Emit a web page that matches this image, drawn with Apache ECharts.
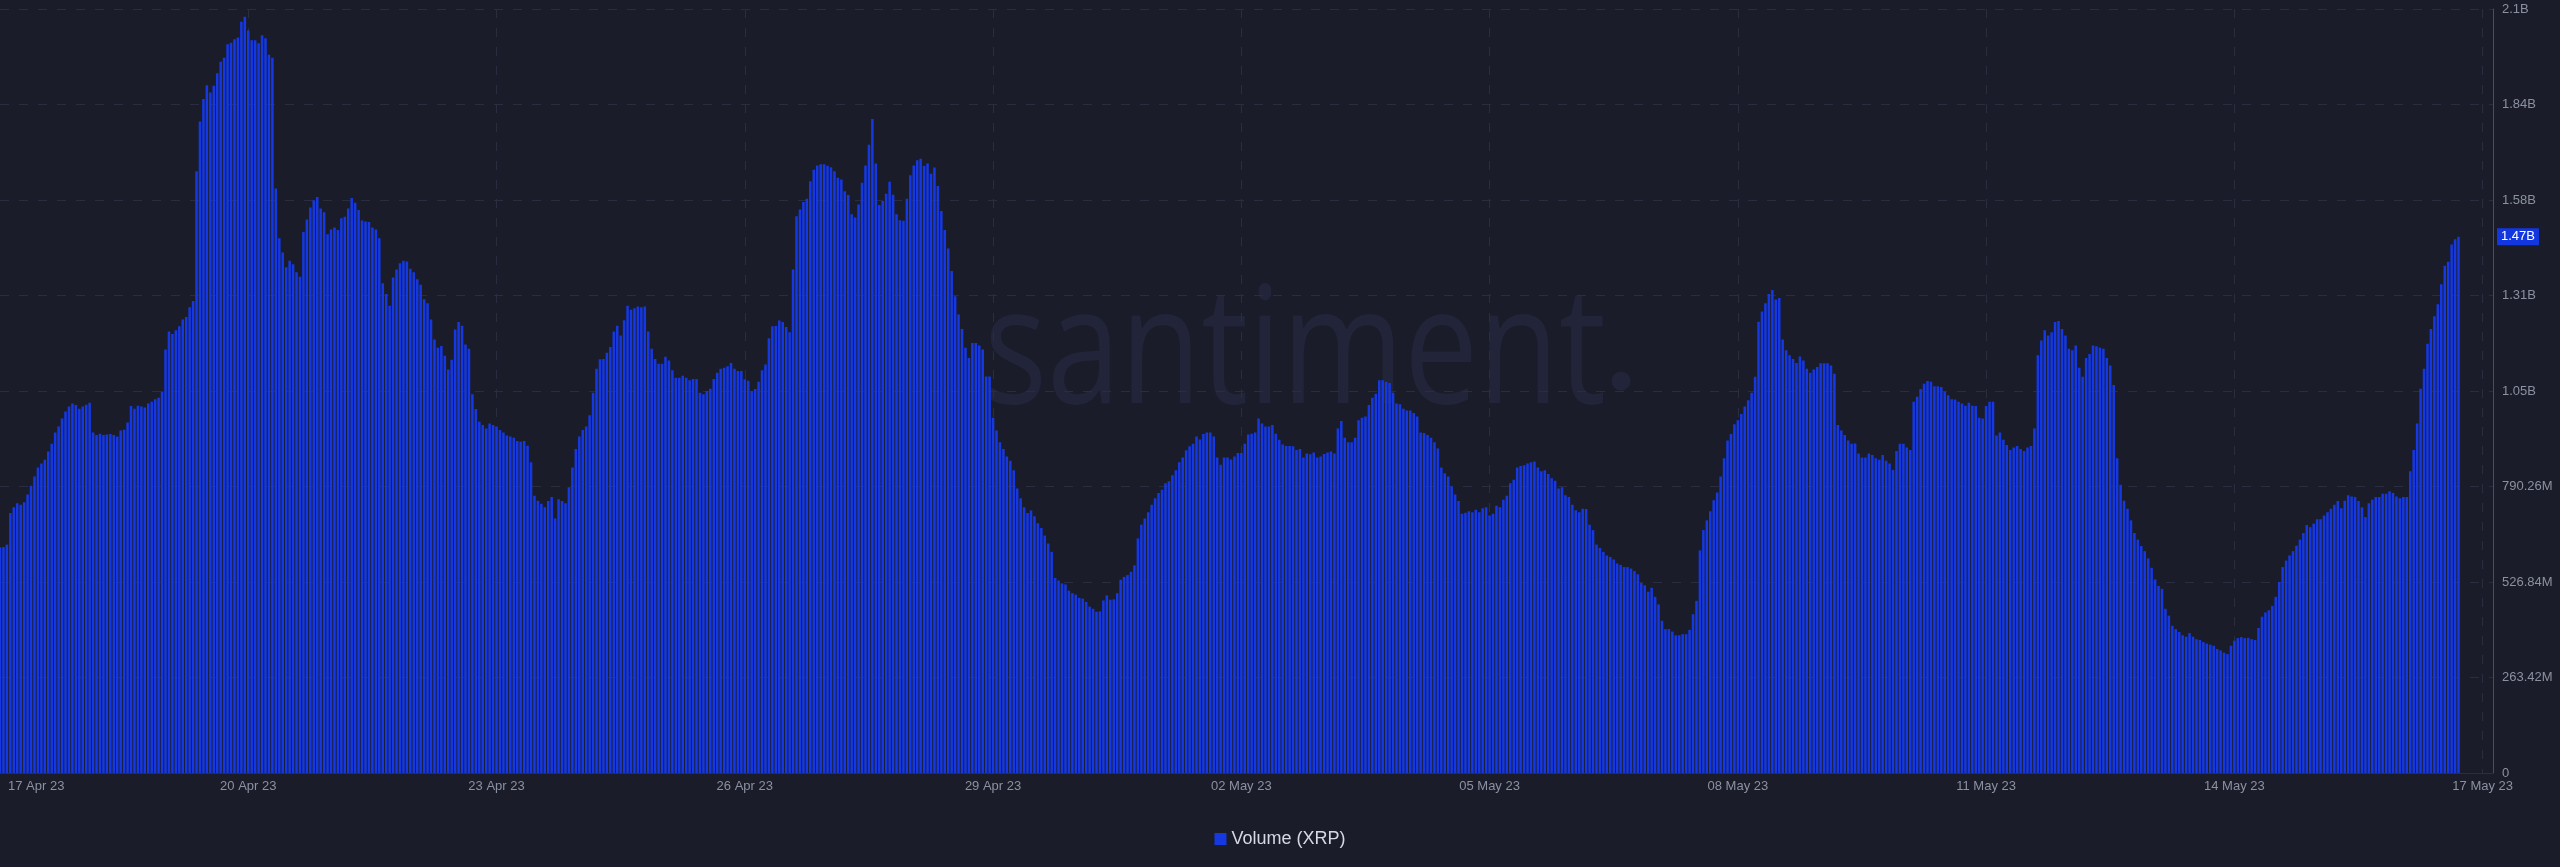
<!DOCTYPE html>
<html>
<head>
<meta charset="utf-8">
<script src="https://cdn.jsdelivr.net/npm/echarts@6/dist/echarts.min.js"></script>
<style>
html,body{margin:0;padding:0;background:#1a1c29;}
#chart{width:2560px;height:867px;}
</style>
</head>
<body>
<div id="chart"></div>
<script>
// x-axis tick labels (one every 72 hours)
const tickLabels = ['17 Apr 23','20 Apr 23','23 Apr 23','26 Apr 23','29 Apr 23','02 May 23','05 May 23','08 May 23','11 May 23','14 May 23','17 May 23'];
const startTimeUTC = Date.UTC(2023, 3, 17, 0);
const hourSlots = 724;           // 17 Apr 00:00 .. 17 May 03:00
const seriesName = 'Volume (XRP)';

// Hourly volume, in millions of XRP
const volApr17to23 = [
623,623,630,717,733,744,740,747,768,792,
818,843,854,864,887,908,939,956,978,997,
1011,1019,1015,1005,1011,1016,1021,939,932,936,
932,934,935,932,928,945,947,967,1012,1005,
1013,1011,1008,1019,1024,1031,1035,1052,1168,1218,
1211,1221,1232,1251,1258,1285,1302,1660,1797,1859,
1897,1877,1896,1930,1962,1973,2010,2014,2024,2029,
2072,2086,2048,2021,2021,2013,2035,2027,1981,1973,
1612,1475,1436,1395,1413,1403,1381,1369,1492,1527,
1560,1580,1589,1557,1547,1486,1499,1505,1498,1530,
1534,1557,1586,1573,1553,1524,1521,1520,1505,1499,
1475,1351,1321,1289,1367,1389,1406,1413,1411,1391,
1381,1362,1347,1307,1296,1251,1196,1173,1178,1151,
1113,1140,1223,1244,1234,1182,1170,1045,1004,969,
960,950,964,960,956
];
const volApr23to29 = [
946,939,931,928,925,916,914,916,903,857,
765,751,743,733,750,761,702,755,750,744,
788,843,894,928,946,956,987,1049,1115,1141,
1142,1159,1175,1218,1234,1207,1249,1289,1278,1282,
1287,1285,1287,1218,1170,1142,1129,1129,1148,1138,
1111,1090,1090,1096,1090,1083,1087,1087,1049,1045,
1054,1060,1087,1104,1115,1118,1122,1131,1115,1109,
1109,1086,1082,1054,1059,1079,1111,1127,1199,1232,
1233,1248,1244,1230,1216,1389,1536,1554,1575,1584,
1632,1664,1676,1679,1679,1675,1671,1660,1642,1637,
1605,1594,1541,1532,1568,1628,1676,1733,1804,1681,
1567,1578,1598,1631,1595,1541,1525,1523,1584,1649,
1676,1690,1694,1674,1681,1653,1670,1619,1550,1498,
1447,1385,1315,1265,1225,1173,1145,1186,1186,1179,
1168,1094,1094
];
const volApr29toMay05 = [
980,945,912,894,873,861,835,785,758,733,
717,724,708,689,676,655,633,610,538,531,
523,520,503,496,492,483,481,472,459,453,
445,446,476,490,478,479,496,533,541,546,
555,573,647,685,702,719,740,758,772,781,
799,805,821,835,857,870,890,901,908,928,
920,935,939,939,928,870,850,870,870,865,
873,883,883,908,934,936,939,978,964,956,
956,960,936,919,906,902,902,901,891,894,
870,881,879,884,870,873,880,884,887,881,
950,971,925,912,912,925,973,980,983,1015,
1035,1046,1083,1083,1079,1076,1049,1019,1017,1005,
1000,1000,993,983,939,938,932,925,912,895,
843,827,818,791,768,750,715,718,722,719,
726,719
];
const volMay05to11 = [
730,733,710,715,737,733,754,765,799,809,
843,847,849,854,857,859,843,832,835,825,
813,806,785,788,766,761,740,725,719,729,
728,685,670,630,621,610,600,596,589,578,
574,568,568,564,557,548,524,518,500,511,
486,465,420,397,397,390,380,380,383,383,
395,438,475,614,670,697,722,752,774,818,
868,917,935,962,973,990,1011,1028,1049,1093,
1245,1273,1296,1321,1332,1306,1310,1196,1166,1152,
1142,1131,1149,1138,1115,1104,1113,1120,1130,1130,
1130,1124,1101,960,945,932,917,908,909,881,
870,870,881,877,868,864,877,861,854,836,
888,908,908,898,891,1024,1038,1059,1074,1081,
1079,1067,1067,1065,1052,1042,1031,1030,1024,1019,
1013,1021
];
const volMay11to17 = [
1013,1012,980,978,1012,1024,1024,931,939,919,
905,891,898,902,894,888,898,902,950,1152,
1193,1221,1207,1216,1244,1247,1225,1207,1170,1166,
1179,1118,1093,1145,1156,1179,1177,1173,1170,1145,
1124,1070,868,795,751,729,697,662,644,626,
612,592,566,534,516,508,453,434,406,397,
389,380,376,386,376,369,367,361,357,354,
351,342,338,332,328,351,365,372,375,372,
373,369,367,400,431,443,449,461,486,527,
568,586,600,612,627,644,662,684,678,688,
700,700,710,719,729,740,750,730,751,766,
763,761,750,733,706,744,754,761,761,770,
770,777,772,763,758,761,761,832,891,964,
1060,1115,1184,1225,1260,1293,1348,1399,1410,1458,
1472,1479
];

const volume = [].concat(volApr17to23, volApr23to29, volApr29toMay05, volMay05to11, volMay11to17);

const categories = [];
for (let i = 0; i < hourSlots; i++) {
  categories.push(new Date(startTimeUTC + i * 3600000).toISOString().slice(0, 13) + ':00');
}

function fmt(v) {
  if (Math.abs(v) < 1e-9) return '0';
  if (v >= 1000) return (Math.floor(v / 10 + 1e-6) / 100).toString() + 'B';
  return (Math.round(v * 100) / 100).toFixed(2) + 'M';
}

const FONT = '"Liberation Sans", Arial, Helvetica, sans-serif';
const chart = echarts.init(document.getElementById('chart'), null, {renderer: 'canvas'});
chart.setOption({
  backgroundColor: '#1a1c29',
  animation: false,
  textStyle: {fontFamily: FONT},
  grid: {left: 0, right: 67, top: 9, bottom: 94, containLabel: false, outerBoundsMode: 'none'},
  legend: {
    data: [seriesName],
    top: 825, left: 'center',
    icon: 'rect', itemWidth: 12, itemHeight: 12,
    textStyle: {color: '#d6d9e3', fontSize: 18, fontFamily: FONT},
    selectedMode: false
  },
  graphic: [
    {type: 'text', x: 984, y: 357, scaleX: 0.81, z: -10, silent: true,
     style: {text: 'santiment', fontSize: 163, fontFamily: '"Open Sans", sans-serif', fill: '#22253a',
             textAlign: 'left', textVerticalAlign: 'middle', align: 'left', verticalAlign: 'middle'}},
    {type: 'circle', z: -10, silent: true, shape: {cx: 1621, cy: 381, r: 9.5}, style: {fill: '#22253a'}}
  ],
  xAxis: {
    type: 'category',
    data: categories,
    boundaryGap: false,
    axisLine: {show: true, lineStyle: {color: '#2a2e40'}},
    axisTick: {show: false},
    axisLabel: {
      interval: (i) => i % 72 === 0,
      formatter: (v, i) => (i === 0 ? '{first|' + tickLabels[0] + '}' : tickLabels[Math.round(i / 72)]),
      rich: {first: {padding: [0, 0, 0, 8], color: '#8b91a1', fontSize: 13, fontFamily: FONT}},
      color: '#8b91a1', fontSize: 13, margin: 7, alignMinLabel: 'left'
    },
    splitLine: {show: true, interval: (i) => i % 72 === 0 && i > 0,
      lineStyle: {color: '#2a2d3f', type: [9, 10], width: 1}}
  },
  yAxis: {
    type: 'value',
    position: 'right',
    min: 0, max: 2107.36, interval: 263.42,
    axisLine: {show: true, lineStyle: {color: '#1e46ff', width: 1}},
    axisTick: {show: false},
    axisLabel: {color: '#8b91a1', fontSize: 13, margin: 9, formatter: fmt},
    splitLine: {show: true, lineStyle: {color: '#2a2d3f', type: [9, 10], width: 1}}
  },
  series: [{
    type: 'bar',
    name: seriesName,
    data: volume,
    barWidth: '74%',
    itemStyle: {color: '#1538e0'},
    emphasis: {disabled: true},
    markLine: {
      silent: true,
      symbol: ['none', 'none'],
      data: [{yAxis: volume[volume.length - 1]}],
      lineStyle: {color: 'rgba(0,0,0,0)', width: 0},
      label: {
        position: 'end', distance: 4,
        formatter: (p) => fmt(p.value),
        color: '#ffffff', backgroundColor: '#1237e0',
        padding: [2, 4], fontSize: 13, fontFamily: FONT
      },
      emphasis: {disabled: true}
    }
  }]
});
</script>
</body>
</html>
